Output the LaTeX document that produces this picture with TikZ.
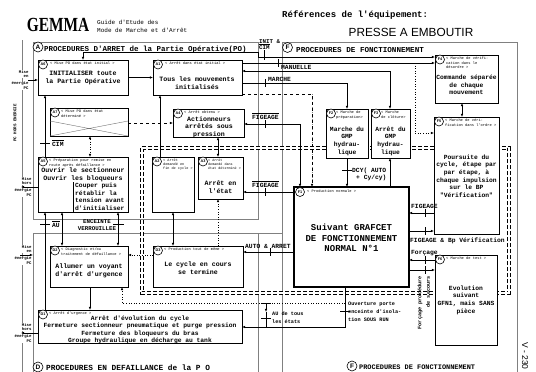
\documentclass[tikz,border=0pt]{standalone}
\usepackage{fontspec}
\setmainfont{Liberation Serif}
\setsansfont{Liberation Sans}
\setmonofont{Liberation Mono}
\usetikzlibrary{arrows.meta}
\newcommand{\ovl}[1]{$\overline{\hbox{#1}}$}
\begin{document}
\begin{tikzpicture}[x=1pt,y=-1pt,
  box/.style={draw, line width=0.9pt, fill=white, anchor=north west, inner sep=0pt, outer sep=0pt},
  bigbox/.style={box, line width=1.8pt},
  btxt/.style={font=\fontsize{6.6}{7.6}\selectfont\ttfamily\bfseries, align=center, inner sep=0pt},
  stxt/.style={font=\fontsize{6.3}{7.6}\selectfont\ttfamily\bfseries, align=center, inner sep=0pt},
  tinyt/.style={font=\fontsize{3.7}{4.3}\selectfont\ttfamily, align=left, inner sep=0pt, anchor=north west},
  cl/.style={draw, circle, line width=0.6pt, minimum size=9pt, inner sep=0pt, fill=white, font=\fontsize{3.8}{3.8}\selectfont\sffamily\bfseries},
  ln/.style={draw, line width=0.6pt},
  ar/.style={ln, -{Latex[length=3.2pt,width=2.6pt]}},
  dar/.style={ln, {Latex[length=3.2pt,width=2.6pt]}-{Latex[length=3.2pt,width=2.6pt]}},
  lab/.style={font=\fontsize{6.3}{7.2}\selectfont\ttfamily\bfseries, inner sep=0pt, align=left},
  lab2/.style={font=\fontsize{5.2}{7.8}\selectfont\ttfamily\bfseries, inner sep=0pt, align=left},
  sidel/.style={font=\fontsize{4}{4.6}\selectfont\ttfamily\bfseries, inner sep=0.3pt, align=right, fill=white},
  frm/.style={draw=black!50, line width=0.5pt},
  tk/.style={draw, line width=0.7pt},
  ttl/.style={font=\fontsize{7.5}{8}\selectfont\ttfamily\bfseries, inner sep=0pt, anchor=west},
  tcl/.style={draw, circle, line width=0.6pt, minimum size=10pt, inner sep=0pt, fill=white, font=\fontsize{6.5}{6.5}\selectfont\sffamily\bfseries},
  prod/.style={draw, line width=1.1pt, double, double distance=1.3pt, dash pattern=on 4pt off 2pt},
]
\useasboundingbox (0,0) rectangle (536,372);
\fill[white] (0,0) rectangle (536,372);

% ---------------- header
\node[font=\fontsize{20}{20}\selectfont\rmfamily\bfseries, xscale=0.77, inner sep=0pt] (gemma) at (58,25) {GEMMA};
\node[font=\fontsize{6}{8}\selectfont\ttfamily, anchor=west, align=left, inner sep=0pt] (guide) at (97,26) {Guide d'Etude des\\Mode de Marche et d'Arrêt};
\node[font=\fontsize{9}{9}\selectfont\ttfamily\bfseries, anchor=west, inner sep=0pt] (refeq) at (282,15) {Références de l'équipement:};
\node[font=\fontsize{11.8}{11.8}\selectfont\sffamily, inner sep=0pt] (presse) at (411,32) {PRESSE A EMBOUTIR};
\node[font=\fontsize{8.5}{8.5}\selectfont\sffamily, rotate=-90, inner sep=0pt] (page) at (525,356) {V - 230};

% ---------------- frames
\draw[frm] (22,40) -- (22,372);
\draw[frm] (33,42) rectangle (258,219);
\draw[frm] (33,372) -- (33,233) -- (282,233);
\draw[frm] (258,233) -- (258,372);
\draw[frm] (282,372) -- (282,42) -- (517,42) -- (517,372);
\draw[frm, dotted] (312,94) -- (312,187);

\node[font=\fontsize{4.2}{4.2}\selectfont\ttfamily\bfseries, rotate=90, inner sep=0pt] (pch) at (15,123) {PC HORS ENERGIE};

\node[tcl] (cA) at (38,47) {A};
\node[ttl] (tA) at (44,50) {PROCEDURES D'ARRET de la Partie Opérative(PO)};
\node[tcl] (cF) at (287.5,47.5) {F};
\node[ttl, font=\fontsize{7.6}{8}\selectfont\ttfamily\bfseries] (tF) at (296,50) {PROCEDURES DE FONCTIONNEMENT};
\node[tcl] (cD) at (38,367) {D};
\node[ttl, font=\fontsize{7.8}{8}\selectfont\ttfamily\bfseries] (tD) at (46,368) {PROCEDURES EN DEFAILLANCE de la P O};
\node[tcl] (cF2) at (352,366) {F};
\node[ttl, font=\fontsize{6.9}{8}\selectfont\ttfamily\bfseries] (tF2) at (359,367) {PROCEDURES DE FONCTIONNEMENT};

% ---------------- production zone
\draw[prod] (142,148) rectangle (509,293);

% ---------------- boxes
\node[box, minimum width=90pt, minimum height=35pt] (A6) at (38,60) {};
\node[box, minimum width=89pt, minimum height=35pt] (A1) at (153,60) {};
\node[box, minimum width=78pt, minimum height=28pt] (A7) at (50,108) {};
\node[box, minimum width=71pt, minimum height=28pt] (A4) at (173,109) {};
\node[box, minimum width=90pt, minimum height=55pt] (A5) at (38,157) {};
\node[box, minimum width=42pt, minimum height=55pt] (A2) at (152,157) {};
\node[box, minimum width=45pt, minimum height=42pt] (A3) at (198,157) {};
\node[box, minimum width=78pt, minimum height=41pt] (D2) at (50,246) {};
\node[box, minimum width=90pt, minimum height=41pt] (D3) at (153,246) {};
\node[box, minimum width=204pt, minimum height=33pt] (D1) at (38,310) {};
\node[bigbox, minimum width=115pt, minimum height=100pt] (F1) at (294,187) {};
\node[box, minimum width=42pt, minimum height=49pt] (F2) at (326,109) {};
\node[box, minimum width=39pt, minimum height=49pt] (F3) at (371,109) {};
\node[box, minimum width=63pt, minimum height=48pt] (F4) at (435,55) {};
\node[box, minimum width=65pt, minimum height=117pt] (F5) at (434,117) {};
\node[box, minimum width=62pt, minimum height=90pt] (F6) at (435,255) {};

% box contents
\node[cl] (cA6) at (43,64.5) {A6};
\node[tinyt] (tA6) at (50,62) {< Mise PO dans état initial >};
\node[btxt] (xA6) at (83,78) {INITIALISER toute\\la Partie Opérative};

\node[cl] (cA1) at (158,64.5) {A1};
\node[tinyt] (tA1) at (165,62) {< Arrêt dans état initial >};
\node[btxt] (xA1) at (197,83) {Tous les mouvements\\initialisés};

\node[cl] (cA7) at (55,112.5) {A7};
\node[tinyt] (tA7) at (61,110) {< Mise PO dans état\\déterminé >};
\draw[draw=black!55, line width=0.4pt] (50,121) -- (128,136) (50,136) -- (128,121);

\node[cl] (cA4) at (178,113.5) {A4};
\node[tinyt] (tA4) at (184,111) {< Arrêt obtenu >};
\node[btxt] (xA4) at (209,127) {Actionneurs\\arrêtés sous\\pression};

\node[cl] (cA5) at (43,161.5) {A5};
\node[tinyt] (tA5) at (49,159) {< Préparation pour remise en\\route après défaillance >};
\node[btxt] (xA5) at (83,175) {Ouvrir le sectionneur\\Ouvrir les bloqueurs};
\draw[line width=0.6pt] (73,182) -- (73,212);
\node[stxt, align=left, anchor=north west] (yA5) at (75,183) {Couper puis\\rétablir la\\tension avant\\d'initialiser};

\node[cl] (cA2) at (157,161.5) {A2};
\node[tinyt, font=\fontsize{3.5}{4.2}\selectfont\ttfamily] (tA2) at (163,158.5) {< Arrêt\\demandé en\\fin de cycle >};

\node[cl] (cA3) at (203,161.5) {A3};
\node[tinyt, font=\fontsize{3.4}{4.2}\selectfont\ttfamily] (tA3) at (208,158.5) {< Arrêt\\demandé dans\\état déterminé >};
\node[btxt] (xA3) at (220.5,187) {Arrêt en\\l'état};

\node[cl] (cD2) at (55,250.5) {D2};
\node[tinyt] (tD2) at (61,248) {< Diagnostic et/ou\\traitement de défaillance >};
\node[btxt] (xD2) at (89,271) {Allumer un voyant\\d'arrêt d'urgence};

\node[cl] (cD3) at (158,250.5) {D3};
\node[tinyt] (tD3) at (164,248) {< Production tout de même >};
\node[btxt] (xD3) at (198,268) {Le cycle en cours\\se termine};

\node[cl] (cD1) at (43,314.5) {D1};
\node[tinyt] (tD1) at (49,312) {< Arrêt d'urgence >};
\node[font=\fontsize{6.3}{7.3}\selectfont\ttfamily\bfseries, align=center, inner sep=0pt] (xD1) at (140,330) {Arrêt d'évolution du cycle\\Fermeture sectionneur pneumatique et purge pression\\Fermeture des bloqueurs du bras\\Groupe hydraulique en décharge au tank};

\node[cl] (cF1) at (300,192) {F1};
\node[tinyt] (tF1) at (307,189.5) {< Production normale >};
\node[font=\fontsize{9}{10.5}\selectfont\ttfamily\bfseries, align=center, inner sep=0pt] (xF1) at (351.5,238) {Suivant GRAFCET\\DE FONCTIONNEMENT\\NORMAL N°1};

\node[cl] (cF2) at (331,113.5) {F2};
\node[tinyt] (tF2) at (336,111) {< Marche de\\préparation>};
\node[stxt] (xF2) at (347,141) {Marche du\\GMP\\hydrau-\\lique};

\node[cl] (cF3) at (376,113.5) {F3};
\node[tinyt] (tF3) at (381,111) {< Marche\\de clôture>};
\node[stxt] (xF3) at (390.5,141) {Arrêt du\\GMP\\hydrau-\\lique};

\node[cl] (cF4) at (440,59.5) {F4};
\node[tinyt] (tF4) at (446,57) {< Marche de vérifi-\\cation dans le\\désordre >};
\node[stxt] (xF4) at (466.5,85) {Commande séparée\\de chaque\\mouvement};

\node[cl] (cF5) at (439,121.5) {F5};
\node[tinyt] (tF5) at (445,119) {< Marche de véri-\\fication dans l'ordre >};
\node[stxt] (xF5) at (466.5,176) {Poursuite du\\cycle, étape par\\par étape, à\\chaque impulsion\\sur le BP\\{"}Vérification{"}};

\node[cl] (cF6) at (440,259.5) {F6};
\node[tinyt] (tF6) at (446,257) {< Marche de test >};
\node[stxt] (xF6) at (466,300) {Evolution\\suivant\\GFN1, mais SANS\\pièce};

% ---------------- side labels (PC energy)
\node[sidel, anchor=south east] (m1a) at (29,78.5) {Mise\\en};
\node[sidel, anchor=north east] (m1b) at (29,81.5) {énergie\\PC};
\coordinate (m1) at (28,80);
\draw[ar] (m1) -- (A6.west |- m1);

\node[sidel, anchor=south east] (h1a) at (32,185.5) {Mise\\hors};
\node[sidel, anchor=north east] (h1b) at (32,188.5) {énergie\\PC};
\coordinate (h1) at (21,187);
\draw[ar] (A5.west |- h1) -- (h1);

\node[sidel, anchor=south east] (e2a) at (32,253.5) {Mise\\en};
\node[sidel, anchor=north east] (e2b) at (32,256.5) {énergie\\PC};
\coordinate (e2) at (20,255);
\coordinate (e2t) at (33,255);
\draw[ar] (e2) -- (e2t);

\node[sidel, anchor=south east] (h2a) at (32,331.5) {Mise\\hors};
\node[sidel, anchor=north east] (h2b) at (32,334.5) {énergie\\PC};
\coordinate (h2) at (21,333);
\draw[ar] (D1.west |- h2) -- (h2);

% ---------------- connectors
\draw[ar] (A6) -- (A1);

% INIT & CIM
\coordinate (i3) at (83,52); \coordinate (i2) at (258,52); \coordinate (i1) at (258,57);
\draw[dar] (A6.north -| i3) -- (i3) -- (i2) -- (i1) -- (F4.west |- i1);
\draw[tk] (264,50) -- (264,60);
\node[font=\fontsize{5.8}{6.2}\selectfont\ttfamily\bfseries, align=left, inner sep=0pt, anchor=north west] (linit) at (259,39) {INIT \&\\\ovl{CIM}};

% MANUELLE
\coordinate (m63) at (0,63);
\draw[ar] (A1.east |- m63) -- (F4.west |- m63);
\draw[tk] (278,59) -- (278,67);
\node[lab, anchor=west] (lman) at (281,67.5) {MANUELLE};

% to F3
\coordinate (f3j) at (390,71);
\draw[dar] (A1.east |- f3j) -- (f3j) -- (F3.north -| f3j);

% MARCHE
\coordinate (f2j) at (347,83);
\draw[ar] (A1.east |- f2j) -- (f2j) -- (F2.north -| f2j);
\draw[tk] (265,79) -- (265,87);
\node[lab, anchor=south west] (lmar) at (268,81.5) {MARCHE};

% A1 -> F1 dashed
\coordinate (dj) at (312,94);
\draw[ar, dashed] (A1.east |- dj) -- (dj) -- (F1.north -| dj);

% FIGEAGE to A4
\coordinate (fa) at (300,124);
\draw[dar] (A4.east |- fa) -- (fa) -- (F1.north -| fa);
\draw[tk] (265,120) -- (265,128);
\node[lab, anchor=south west] (lfa) at (252,119.5) {\ovl{FIGEAGE}};

% FIGEAGE to A3
\coordinate (fb) at (0,192);
\draw[ar] (F1.west |- fb) -- (A3.east |- fb);
\draw[tk] (265,188) -- (265,196);
\node[lab, anchor=south west] (lfb) at (252,187.5) {\ovl{FIGEAGE}};

% AUTO & ARRET
\coordinate (aa) at (0,252);
\draw[ar] (F1.west |- aa) -- (D3.east |- aa);
\draw[tk] (270,248) -- (270,256);
\node[lab, anchor=south west] (laa) at (245,248.5) {AUTO \& ARRET};

% CIM : A5 -> A6
\coordinate (x45) at (45,0);
\draw[ar] (A5.north -| x45) -- (A6.south -| x45);
\draw[tk] (40,143) -- (50,143);
\node[lab, anchor=west] (lcim) at (52,143) {\ovl{CIM}};

% A2 -> A1
\coordinate (x160) at (160,0);
\draw[ar] (A2.north -| x160) -- (A1.south -| x160);

% A7 -> A4
\coordinate (y123) at (0,123);
\draw[ar, dashed] (A7.east |- y123) -- (A4.west |- y123);

% A7 <-> A5
\coordinate (x90) at (90,0);
\draw[dar, dotted] (A7.south -| x90) -- (A5.north -| x90);

% A4 <-> A3
\coordinate (x218) at (218,0);
\draw[dar] (A4.south -| x218) -- (A3.north -| x218);

% A5 <-> D2
\coordinate (x62) at (62,0);
\coordinate (x118) at (118,0);
\draw[dar] (A5.south -| x62) -- (D2.north -| x62);
\draw[dar] (A5.south -| x118) -- (D2.north -| x118);
\draw[tk] (113,224) -- (124,224);
\node[lab, align=center, font=\fontsize{5.8}{7}\selectfont\ttfamily\bfseries] (lenc) at (97,225.5) {ENCEINTE\\VERROUILLEE};

% D1 -> A5 (AU)
\draw[ar] (D1.north -| x45) -- (A5.south -| x45);
\draw[tk] (40,224) -- (50,224);
\node[lab, anchor=west] (lau) at (52,224) {\ovl{AU}};

% A2 <-> D3
\coordinate (x173) at (173,0);
\draw[dar] (A2.south -| x173) -- (D3.north -| x173);

% D3 -> A3 dotted
\draw[ar, dotted] (D3.north -| x218) -- (A3.south -| x218);

% D3 -> D2 dotted
\coordinate (y255) at (0,255);
\draw[ar, dotted] (D3.west |- y255) -- (D2.east |- y255);

% D2 -> D1
\draw[ar] (D2.south -| x90) -- (D1.north -| x90);

% door / AU to D1, dotted to D2
\coordinate (dj1) at (345,303); \coordinate (dj2) at (345,327); \coordinate (dj3) at (122,303);
\draw[ln] (F1.south -| dj1) -- (dj1);
\draw[ar] (dj1) -- (dj2) -- (D1.east |- dj2);
\draw[ar, dotted] (dj1) -- (dj3) -- (D2.south -| dj3);
\draw[tk] (340,311) -- (350,311);
\node[lab2, anchor=north west] (ldoor) at (348,302) {Ouverture porte\\enceinte d'isola-\\tion SOUS RUN};

\coordinate (au1) at (266,303); \coordinate (au0) at (266,312); \coordinate (au2) at (266,327);
\draw[ln] (261,303) -- (271,303);
\draw[ar] (au1) -- (au0);
\draw[ln] (au0) -- (au2);
\draw[tk] (261,318) -- (271,318);
\node[lab2, anchor=west, font=\fontsize{5.2}{8.5}\selectfont\ttfamily\bfseries] (lau2) at (272,317.5) {AU de tous\\les états};

% F2 -> F1 (DCY)
\coordinate (x347) at (347,0);
\draw[ar] (F2.south -| x347) -- (F1.north -| x347);
\draw[tk] (342,170) -- (352,170);
\node[lab, anchor=west] (ldcy) at (352,174) {DCY( AUTO\\\hspace*{4pt}+ Cy/cy)};

% F1 -> F3
\coordinate (x390) at (390,0);
\draw[ar] (F1.north -| x390) -- (F3.south -| x390);

% F4 <-> F5
\coordinate (x462) at (462,0);
\draw[dar] (F4.south -| x462) -- (F5.north -| x462);

% dotted to F5
\coordinate (vj1) at (415,63); \coordinate (vj2) at (415,133);
\draw[ar, dotted] (vj1) -- (vj2) -- (F5.west |- vj2);

% F5 <-> F1
\coordinate (y213) at (0,213); \coordinate (y231) at (0,231);
\draw[ar] (F5.west |- y213) -- (F1.east |- y213);
\draw[tk] (425,209) -- (425,217);
\node[lab, anchor=south west] (lfg) at (411,208.5) {FIGEAGE};
\draw[ar] (F1.east |- y231) -- (F5.west |- y231);
\draw[tk] (425,227) -- (425,235);
\node[lab, anchor=west] (lfgb) at (410,241) {FIGEAGE \& Bp Vérification};

% F6 <-> F1
\coordinate (y260) at (0,260); \coordinate (y270) at (0,270);
\draw[ar] (F6.west |- y260) -- (F1.east |- y260);
\draw[tk] (425,256) -- (425,264);
\node[lab, anchor=south west] (lforc) at (411,256) {Forçage};
\draw[ar] (F1.east |- y270) -- (F6.west |- y270);
\draw[tk] (425,266) -- (425,274);

\node[lab2, rotate=90, anchor=east] (vt1) at (420,276) {Forçage procédure};
\node[lab2, rotate=90, anchor=east] (vt2) at (428,276) {de secours};

\end{tikzpicture}
\end{document}
